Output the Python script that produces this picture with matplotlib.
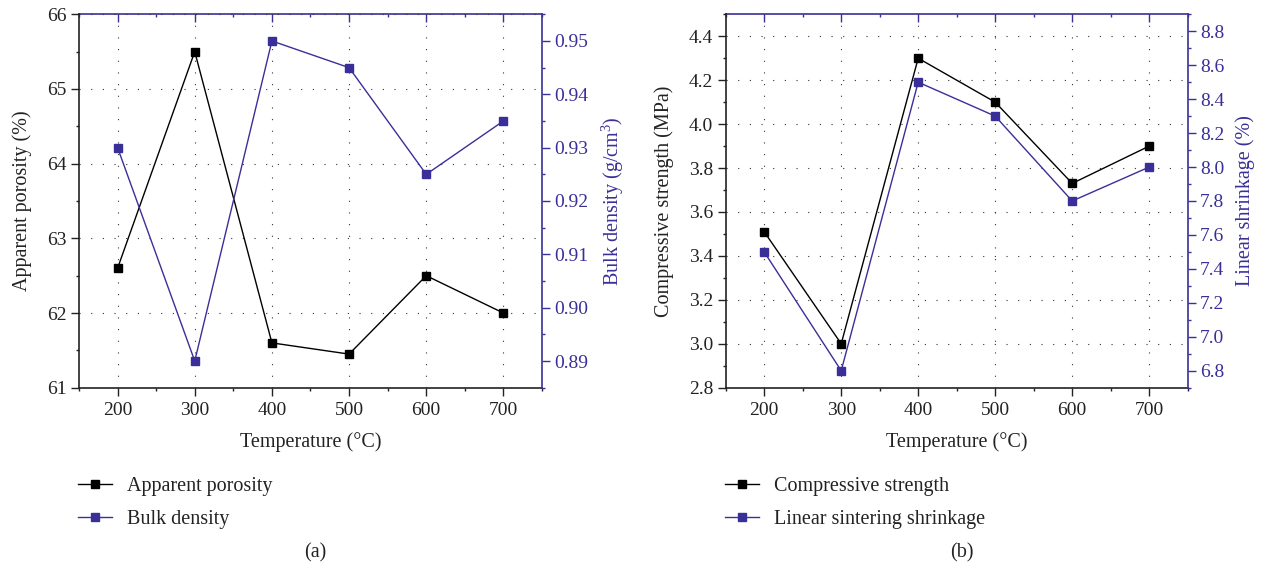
import matplotlib
matplotlib.use("Agg")
import matplotlib.pyplot as plt
from matplotlib.ticker import MultipleLocator, FormatStrFormatter

temps = [200, 300, 400, 500, 600, 700]
apparent_porosity = [62.6, 65.5, 61.6, 61.45, 62.5, 62.0]
bulk_density = [0.930, 0.890, 0.950, 0.945, 0.925, 0.935]
compressive_strength = [3.51, 3.00, 4.30, 4.10, 3.73, 3.90]
linear_shrinkage = [7.5, 6.8, 8.5, 8.3, 7.8, 8.0]

BLUE = '#3a2f98'
DARK = '#222222'
plt.rcParams['font.family'] = ['Liberation Serif', 'DejaVu Serif']
plt.rcParams['mathtext.fontset'] = 'custom'
plt.rcParams['mathtext.rm'] = 'Liberation Serif'
plt.rcParams['mathtext.it'] = 'Liberation Serif:italic'
TFS = 14
LFS = 14.5

fig = plt.figure(figsize=(12.67, 5.69), dpi=100)


def style(ax, ax2, ylim, ymaj, ymin, y2lim, y2maj, y2min, ylab, y2lab, fmt1, fmt2):
    ax.set_xlim(150, 750)
    ax.set_ylim(*ylim)
    ax2.set_ylim(*y2lim)
    ax.xaxis.set_major_locator(MultipleLocator(100))
    ax.xaxis.set_minor_locator(MultipleLocator(50))
    ax.set_xticks(temps)
    ax.yaxis.set_major_locator(MultipleLocator(ymaj))
    ax.yaxis.set_minor_locator(MultipleLocator(ymin))
    ax2.yaxis.set_major_locator(MultipleLocator(y2maj))
    ax2.yaxis.set_minor_locator(MultipleLocator(y2min))
    ax.yaxis.set_major_formatter(FormatStrFormatter(fmt1))
    ax2.yaxis.set_major_formatter(FormatStrFormatter(fmt2))
    ax.grid(True, which='major', color='#333333', linestyle=(0, (1, 9.5)), linewidth=0.8)
    ax.tick_params(which='both', direction='out', labelsize=TFS, colors=DARK, width=1.0)
    ax.tick_params(which='major', length=5.5)
    ax.tick_params(which='minor', length=2.5)
    ax.tick_params(axis='x', which='major', pad=5)
    ax2.tick_params(which='both', direction='out', labelsize=TFS, colors=BLUE, width=1.0)
    ax2.tick_params(which='major', length=5.5)
    ax2.tick_params(which='minor', length=2.5)
    for s in ['left', 'bottom']:
        ax.spines[s].set_linewidth(1.2)
        ax.spines[s].set_color(DARK)
    ax2.spines['right'].set_color(BLUE)
    ax2.spines['right'].set_linewidth(1.2)
    ax2.spines['top'].set_visible(False)
    ax2.spines['left'].set_visible(False)
    ax2.spines['bottom'].set_visible(False)
    ax.spines['right'].set_visible(False)
    ax.spines['top'].set_visible(False)
    sec = ax.secondary_xaxis('top')
    sec.set_xticks(temps)
    sec.xaxis.set_minor_locator(MultipleLocator(50))
    sec.tick_params(which='both', direction='in', colors=BLUE, labeltop=False, width=1.0)
    sec.tick_params(which='major', length=5.5)
    sec.tick_params(which='minor', length=2.5)
    sec.spines['top'].set_color(BLUE)
    sec.spines['top'].set_linewidth(1.2)
    ax.set_xlabel('Temperature (°C)', fontsize=LFS, labelpad=9, color=DARK)
    ax.set_ylabel(ylab, fontsize=LFS, labelpad=11, color=DARK)
    ax2.set_ylabel(y2lab, fontsize=LFS, color=BLUE, labelpad=8)


mk = dict(marker='s', markersize=6, linewidth=1.0, zorder=3)

# Panel (a)
axa = fig.add_axes([0.06235, 0.31863, 0.36543, 0.65624])
axa2 = axa.twinx()
la, = axa.plot(temps, apparent_porosity, color='black', label='Apparent porosity', **mk)
lb, = axa2.plot(temps, bulk_density, color=BLUE, label='Bulk density', **mk)
style(axa, axa2, (61, 66), 1, 0.5, (0.885, 0.955), 0.01, 0.005,
      'Apparent porosity (%)', 'Bulk density (g/cm$^3$)', '%d', '%.2f')

# Panel (b)
axb = fig.add_axes([0.57277, 0.31863, 0.36464, 0.65624])
axb2 = axb.twinx()
lc, = axb.plot(temps, compressive_strength, color='black', label='Compressive strength', **mk)
ld, = axb2.plot(temps, linear_shrinkage, color=BLUE, label='Linear sintering shrinkage', **mk)
style(axb, axb2, (2.8, 4.5), 0.2, 0.1, (6.7, 8.9), 0.2, 0.1,
      'Compressive strength (MPa)', 'Linear shrinkage (%)', '%.1f', '%.1f')

leg_kw = dict(frameon=False, fontsize=LFS, handlelength=1.7, handletextpad=0.75,
              labelspacing=0.7, markerscale=0.85, loc='upper left',
              borderpad=0, borderaxespad=0, labelcolor=DARK)
fig.legend(handles=[la, lb], bbox_to_anchor=(78 / 1267, 1 - 477 / 569), **leg_kw)
fig.legend(handles=[lc, ld], bbox_to_anchor=(725 / 1267, 1 - 477 / 569), **leg_kw)

fig.text(315 / 1267, 1 - 553 / 569, '(a)', ha='center', va='center', fontsize=LFS, color=DARK)
fig.text(962 / 1267, 1 - 553 / 569, '(b)', ha='center', va='center', fontsize=LFS, color=DARK)

fig.savefig('out.png', dpi=100)
